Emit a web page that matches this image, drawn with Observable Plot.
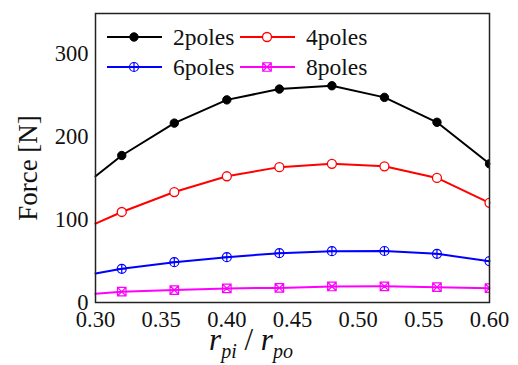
<!DOCTYPE html>
<html><head><meta charset="utf-8">
<script src="https://cdn.jsdelivr.net/npm/d3@7"></script>
<script src="https://cdn.jsdelivr.net/npm/@observablehq/plot@0.6"></script>
<style>body{margin:0;background:#fff}</style>
</head><body><div id="chart"></div>
<script>
const ratio = [0.30, 0.32, 0.36, 0.40, 0.44, 0.48, 0.52, 0.56, 0.60];
const poles2 = [152, 177, 216, 244, 257, 261, 247, 217, 167];
const poles4 = [95, 109, 133, 152, 163, 167, 164, 150, 120];
const poles6 = [35, 40.6, 48.6, 54.6, 59.4, 61.8, 62, 58.6, 49.8];
const poles8 = [10.4, 13, 15, 17, 17.6, 19.3, 19.5, 18.5, 17.3];
const seriesNames = ["2poles", "4poles", "6poles", "8poles"];
const xTicks = [0.30, 0.35, 0.40, 0.45, 0.50, 0.55, 0.60];
const yTicks = [0, 100, 200, 300];

const circlePlus = {draw(ctx, size) {const r = Math.sqrt(size / Math.PI); ctx.moveTo(r, 0); ctx.arc(0, 0, r, 0, 2 * Math.PI); ctx.moveTo(-r, 0); ctx.lineTo(r, 0); ctx.moveTo(0, -r); ctx.lineTo(0, r);}};
const squareX = {draw(ctx, size) {const s = Math.sqrt(size) / 2; ctx.rect(-s, -s, 2 * s, 2 * s); ctx.moveTo(-s, -s); ctx.lineTo(s, s); ctx.moveTo(s, -s); ctx.lineTo(-s, s);}};

const styles = [
  {color: "#000000", symbol: "circle", fill: "#000000", r: 4.2, sw: 1},
  {color: "#ff0000", symbol: "circle", fill: "#ffffff", r: 4.5, sw: 1.3},
  {color: "#0000ff", symbol: circlePlus, fill: "none", r: 4.5, sw: 1.2},
  {color: "#ff00ff", symbol: squareX, fill: "none", r: 4.8, sw: 1.2}
];
const values = [poles2, poles4, poles6, poles8];
const data = [];
seriesNames.forEach((name, i) => ratio.forEach((x, j) => data.push({series: name, idx: i, x, y: values[i][j], marker: j > 0})));

const marks = [];
seriesNames.forEach((name, i) => {
  const s = styles[i];
  const d = data.filter(p => p.idx === i);
  marks.push(Plot.line(d, {x: "x", y: "y", stroke: s.color, strokeWidth: 2}));
  marks.push(Plot.dot(d.filter(p => p.marker), {x: "x", y: "y", symbol: () => s.symbol, r: s.r, fill: s.fill, stroke: s.color, strokeWidth: s.sw, clip: true}));
});

const serif = "'Liberation Serif', 'Times New Roman', serif";
const chart = Plot.plot({
  width: 518, height: 365,
  marginLeft: 95, marginRight: 29, marginTop: 13, marginBottom: 63,
  x: {domain: [0.3, 0.6]},
  y: {domain: [0, 348]},
  symbol: {type: "identity"},
  style: {fontFamily: serif, fontSize: "22.5px", color: "#111", background: "#fff"},
  marks: [
    Plot.axisX({ticks: xTicks, tickSize: 0, tickPadding: 9, tickFormat: d3.format(".2f"), label: null}),
    Plot.axisY({ticks: yTicks, tickSize: 0, tickPadding: 7, label: null}),
    ...marks,
    Plot.frame({stroke: "#222", strokeWidth: 1.5})
  ]
});
document.getElementById("chart").appendChild(chart);

const svg = d3.select(chart);
svg.append("text").attr("transform", "translate(28,168) rotate(-90)").attr("text-anchor", "middle")
  .attr("dy", "0.35em").style("font-family", serif).style("font-size", "27px").attr("fill", "#111").text("Force [N]");

const xl = svg.append("text").attr("x", 251).attr("y", 350).attr("text-anchor", "middle")
  .style("font-family", serif).style("font-size", "31px").attr("fill", "#111");
xl.append("tspan").style("font-style", "italic").text("r");
xl.append("tspan").style("font-style", "italic").style("font-size", "20px").attr("dy", 8).text("pi");
xl.append("tspan").attr("dy", -8).text(" / ");
xl.append("tspan").style("font-style", "italic").text("r");
xl.append("tspan").style("font-style", "italic").style("font-size", "20px").attr("dy", 8).text("po");

const legendPos = [[107, 37], [240, 37], [107, 67], [240, 67]];
seriesNames.forEach((name, i) => {
  const s = styles[i];
  const [lx, ly] = legendPos[i];
  const g = svg.append("g");
  g.append("line").attr("x1", lx).attr("x2", lx + 55).attr("y1", ly).attr("y2", ly).attr("stroke", s.color).attr("stroke-width", 2);
  const sym = typeof s.symbol === "string" ? d3.symbolCircle : s.symbol;
  g.append("path").attr("d", d3.symbol(sym, Math.PI * s.r * s.r)()).attr("transform", `translate(${lx + 27},${ly})`)
    .attr("fill", s.fill).attr("stroke", s.color).attr("stroke-width", s.sw);
  g.append("text").attr("x", lx + 66).attr("y", ly).attr("dy", "0.35em").attr("text-anchor", "start").style("font-family", serif)
    .style("font-size", "23.5px").attr("fill", "#111").text(name);
});
</script>
</body></html>
